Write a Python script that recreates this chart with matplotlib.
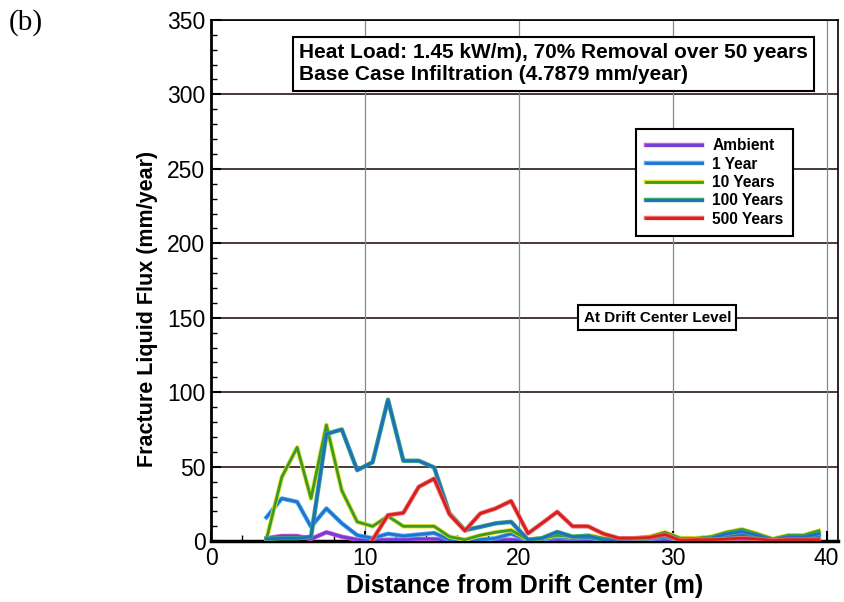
import matplotlib
matplotlib.use("Agg")
import matplotlib.pyplot as plt
import matplotlib.patheffects as pe
from matplotlib.ticker import MultipleLocator

# ---- data ----
x_main = [3.6, 4.6, 5.6, 6.5, 7.5, 8.5, 9.5, 10.5, 11.5, 12.5, 13.5, 14.5, 15.5,
          16.5, 17.5, 18.5, 19.5, 20.6, 21.5, 22.5, 23.5, 24.5, 25.5, 26.5, 27.5,
          28.5, 29.5, 30.5, 31.5, 32.5, 33.5, 34.5, 35.5, 36.5, 37.5, 38.5, 39.5]

ambient = [2, 3.5, 3.5, 1.5, 6, 3, 1, 0.5, 1, 1, 1.5, 1.5, 0.5,
           0.3, 0.5, 0.8, 1, 0.3, 0.5, 1, 0.8, 0.8, 0.5, 0.3, 0.5,
           0.5, 1, 0.3, 0.3, 0.5, 1, 1.5, 1, 0.3, 0.5, 0.5, 1]
year1 = [16, 28.7, 26.4, 9.6, 22, 12, 4, 2, 5, 3.5, 4.5, 5.5, 1,
         0.3, 1, 2, 5, 0.5, 1, 3, 2, 2.5, 1, 0.5, 1,
         1.5, 3, 0.5, 1, 1.5, 3, 4, 3, 0.5, 2, 2, 3]
year10 = [1, 43, 63, 28.7, 78, 34, 13, 10, 16.8, 10, 10, 10, 3,
          1, 4, 6, 7.4, 1, 2, 4, 3, 4, 2, 1, 2,
          3, 6, 2, 2, 3, 6, 8, 5, 1.5, 4, 4, 7]
year100 = [1.5, 2, 2, 3, 72, 75, 47.7, 53, 95, 54, 54, 49.5, 18.6,
           7.4, 9.6, 12, 13, 1, 2, 6.2, 3, 3.5, 1, 0.5, 1.5,
           2, 4, 1, 1, 2, 5, 6.5, 4, 1, 3, 3, 5]
x_500 = [10.5, 11.5, 12.5, 13.5, 14.5, 15.5, 16.5, 17.5, 18.5, 19.5, 20.6, 21.5,
         22.5, 23.5, 24.5, 25.5, 26.5, 27.5, 28.5, 29.5, 30.5, 31.5, 32.5, 33.5,
         34.5, 35.5, 36.5, 37.5, 38.5, 39.5]
year500 = [1, 17.5, 19, 36.5, 42, 18, 7, 18.6, 22, 27, 5.2, 12,
           19.7, 10, 10, 5, 2, 2, 2.5, 4.5, 0.5, 1, 1, 1.5,
           2, 1.5, 0.5, 1, 1, 1]

labels = ["Ambient", "1 Year", "10 Years", "100 Years", "500 Years"]
series = [(x_main, ambient), (x_main, year1), (x_main, year10),
          (x_main, year100), (x_500, year500)]
cores = ["#6a40d8", "#1f74d0", "#3c9a28", "#1f6fc0", "#d62020"]
halos = ["#e050d0", "#58b0ec", "#e8e020", "#38a878", "#ee7070"]

fig = plt.figure(figsize=(8.44, 6.02), dpi=100)
ax = fig.add_axes([0.25, 0.101, 0.743, 0.866])

ax.set_xlim(0, 40.75)
ax.set_ylim(0, 350)

# grid
for yv in range(50, 351, 50):
    ax.axhline(yv, color="#2a1818", lw=1.2, zorder=1)
for xv in [10, 20, 30, 40]:
    ax.axvline(xv, color="#888888", lw=0.9, zorder=1)

for (xs, ys), lab, c, h in zip(series, labels, cores, halos):
    ax.plot(xs, ys, color=c, lw=2.0, label=lab, zorder=3,
            path_effects=[pe.Stroke(linewidth=3.2, foreground=h), pe.Normal()])

ax.xaxis.set_major_locator(MultipleLocator(10))
ax.xaxis.set_minor_locator(MultipleLocator(2))
ax.yaxis.set_major_locator(MultipleLocator(50))
ax.yaxis.set_minor_locator(MultipleLocator(10))
ax.tick_params(which="both", direction="in", top=False, right=False)
ax.tick_params(which="major", length=7, width=1.5, labelsize=16.5, pad=4)
ax.tick_params(which="minor", length=4, width=1)
for lbl in ax.get_xticklabels() + ax.get_yticklabels():
    lbl.set_fontfamily("Liberation Sans")

for s in ax.spines.values():
    s.set_linewidth(1.2)
ax.spines["left"].set_linewidth(2)
ax.spines["bottom"].set_linewidth(2.5)

ax.set_xlabel("Distance from Drift Center (m)", fontsize=18, fontweight="bold",
              family="Liberation Sans", labelpad=3)
ax.set_ylabel("Fracture Liquid Flux (mm/year)", fontsize=15.5, fontweight="bold",
              family="Liberation Sans")
ax.yaxis.set_label_coords(-0.085, 0.445)

leg = ax.legend(loc="upper left", bbox_to_anchor=(0.678, 0.791), frameon=True,
                fancybox=False, edgecolor="black", framealpha=1, borderaxespad=0,
                prop={"family": "Liberation Sans", "weight": "bold", "size": 11.2},
                handlelength=3.6, labelspacing=0.22, borderpad=0.6, handletextpad=0.7)
leg.get_frame().set_linewidth(1.5)
leg.set_zorder(5)

ax.text(0.140, 0.955, "Heat Load: 1.45 kW/m), 70% Removal over 50 years\n"
        "Base Case Infiltration (4.7879 mm/year)",
        transform=ax.transAxes, ha="left", va="top", fontsize=15,
        fontweight="bold", family="Liberation Sans", linespacing=1.2, zorder=6,
        bbox=dict(boxstyle="square,pad=0.3", fc="white", ec="black", lw=1.5))

ax.text(29.0, 150, "At Drift Center Level", ha="center", va="center",
        fontsize=11, fontweight="bold", family="Liberation Sans", zorder=6,
        bbox=dict(boxstyle="square,pad=0.35", fc="white", ec="black", lw=1.5))

fig.text(0.01, 0.963, "(b)", fontsize=21, family="Liberation Serif",
         ha="left", va="center")

fig.savefig("out.png", dpi=100, facecolor="white")
